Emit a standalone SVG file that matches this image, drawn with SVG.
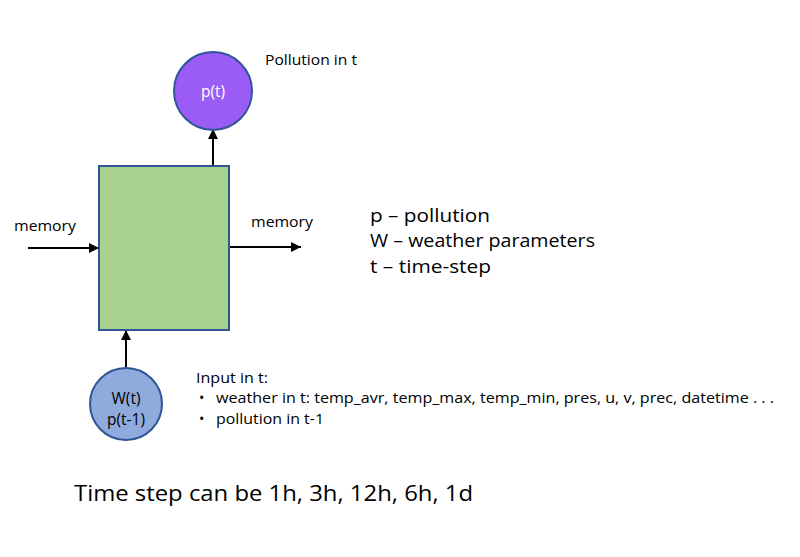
<svg xmlns="http://www.w3.org/2000/svg" width="800" height="557" viewBox="0 0 800 557">
<defs>
<marker id="ah" viewBox="0 0 10 10" refX="10" refY="5" markerWidth="10" markerHeight="10" markerUnits="userSpaceOnUse" orient="auto">
<path d="M0,0 L10,5 L0,10 z" fill="#000"/>
</marker>
<style>
text{font-family:"Open Sans","Liberation Sans",sans-serif;fill:#000}
.s14{font-size:14.3px}
.s15{font-size:15.5px}
.s18{font-size:18px}
.s22{font-size:22.5px}
.conn{stroke:#000;stroke-width:2;fill:none;marker-end:url(#ah)}
.node{stroke:#2F5597;stroke-width:2}
</style>
</defs>
<rect width="800" height="557" fill="#fff"/>
<g id="connectors">
<line class="conn" x1="213" y1="166" x2="213" y2="129"/>
<line class="conn" x1="28" y1="248" x2="99" y2="248"/>
<line class="conn" x1="229" y1="247" x2="301" y2="247"/>
<line class="conn" x1="126" y1="367" x2="126" y2="330"/>
</g>
<g id="node-pt">
<circle class="node" cx="213" cy="91" r="39" fill="#9B5CF6"/>
<text class="s15" x="213" y="97" text-anchor="middle" style="fill:#fff">p(t)</text>
</g>
<g id="node-cell">
<rect class="node" x="99" y="166" width="130" height="164" fill="#A9D18E"/>
</g>
<g id="node-input">
<circle class="node" cx="126" cy="404" r="36" fill="#8FAADC"/>
<text class="s15" x="126" y="404" text-anchor="middle">W(t)</text>
<text class="s15" x="126" y="425" text-anchor="middle">p(t-1)</text>
</g>
<g id="labels">
<text class="s14" x="265" y="65" textLength="92" lengthAdjust="spacingAndGlyphs">Pollution in t</text>
<text class="s14" x="14" y="231" textLength="62" lengthAdjust="spacingAndGlyphs">memory</text>
<text class="s14" x="251" y="227" textLength="62" lengthAdjust="spacingAndGlyphs">memory</text>
<text class="s18" x="370" y="222" textLength="120" lengthAdjust="spacingAndGlyphs">p – pollution</text>
<text class="s18" x="370" y="247" textLength="225" lengthAdjust="spacingAndGlyphs">W – weather parameters</text>
<text class="s18" x="370" y="273" textLength="121" lengthAdjust="spacingAndGlyphs">t – time-step</text>
<text class="s14" x="196" y="383" textLength="72" lengthAdjust="spacingAndGlyphs">Input in t:</text>
<text class="s14" x="199" y="403">•</text>
<text class="s14" x="216" y="403" textLength="558" lengthAdjust="spacingAndGlyphs">weather in t: temp_avr, temp_max, temp_min, pres, u, v, prec, datetime . . .</text>
<text class="s14" x="199" y="424">•</text>
<text class="s14" x="216" y="424" textLength="108" lengthAdjust="spacingAndGlyphs">pollution in t-1</text>
<text class="s22" x="74" y="501" textLength="399" lengthAdjust="spacingAndGlyphs">Time step can be 1h, 3h, 12h, 6h, 1d</text>
</g>
</svg>
